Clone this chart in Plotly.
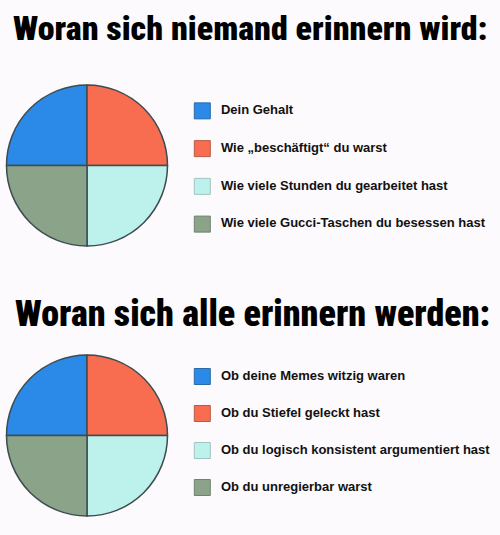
import plotly.graph_objects as go

W, H = 500, 535

title_top = "Woran sich niemand erinnern wird:"
title_bottom = "Woran sich alle erinnern werden:"

labels_top = ["Dein Gehalt", "Wie „beschäftigt“ du warst",
              "Wie viele Stunden du gearbeitet hast",
              "Wie viele Gucci-Taschen du besessen hast"]
labels_bottom = ["Ob deine Memes witzig waren", "Ob du Stiefel geleckt hast",
                 "Ob du logisch konsistent argumentiert hast",
                 "Ob du unregierbar warst"]
values_top = [25, 25, 25, 25]
values_bottom = [25, 25, 25, 25]
rows = [0, 1, 2, 3]

colors = ["#2b8ae8", "#f86c50", "#bdf1eb", "#8ba388"]
borders = ["#2a6aa8", "#b85a48", "#9fc5c2", "#6f8270"]
outline = "#3e4c52"
bg = "#fcfafc"

TITLE_FONT_1 = dict(family="Roboto, sans-serif", size=34, color="#000000", weight=900)
TITLE_FONT_2 = dict(family="Roboto, sans-serif", size=36, color="#000000", weight=900)
LEG_FONT = dict(family="'Liberation Sans', Arial, sans-serif", size=13, color="#111111", weight="bold")


def condensed(s):
    return f'<span style="font-stretch:75%">{s}</span>'


def py(top, bottom):
    return [1 - bottom / H, 1 - top / H]


fig = go.Figure()

# Pies
for vals, labs, top, bot in [(values_top, labels_top, 85, 246), (values_bottom, labels_bottom, 355, 516)]:
    fig.add_trace(go.Pie(
        values=vals, labels=labs, sort=False, direction="clockwise", rotation=-90,
        marker=dict(colors=colors, line=dict(color=outline, width=1.5)),
        textinfo="none", showlegend=False, hoverinfo="label",
        domain=dict(x=[6 / W, 168 / W], y=py(top, bot)),
    ))

# Legends drawn as scatter on dedicated axes
legend_specs = [
    (labels_top, "x2", "y2", py(92, 243)),
    (labels_bottom, "x3", "y3", py(358, 506)),
]
for labs, xa, ya, ydom in legend_specs:
    fig.add_trace(go.Scatter(
        x=[0] * len(labs), y=rows, mode="markers", xaxis=xa, yaxis=ya,
        marker=dict(symbol="square", size=16, color=colors, line=dict(color=borders, width=1)),
        showlegend=False, hoverinfo="skip",
    ))
    fig.add_trace(go.Scatter(
        x=[1] * len(labs), y=rows, mode="text", text=labs, textposition="middle right",
        xaxis=xa, yaxis=ya, textfont=LEG_FONT, showlegend=False, hoverinfo="skip",
    ))

axis_off = dict(visible=False, showgrid=False, zeroline=False, fixedrange=True)
fig.update_layout(
    width=W, height=H, margin=dict(l=0, r=0, t=0, b=0),
    paper_bgcolor=bg, plot_bgcolor=bg,
    xaxis2=dict(domain=[193 / W, 1], range=[-0.5, 16], anchor="y2", **axis_off),
    yaxis2=dict(domain=legend_specs[0][3], range=[3.5, -0.5], anchor="x2", **axis_off),
    xaxis3=dict(domain=[193 / W, 1], range=[-0.5, 16], anchor="y3", **axis_off),
    yaxis3=dict(domain=legend_specs[1][3], range=[3.5, -0.5], anchor="x3", **axis_off),
    annotations=[
        dict(text=condensed(title_top), x=250 / W, y=1 - 28 / H, xref="paper", yref="paper",
             xanchor="center", yanchor="middle", showarrow=False, font=TITLE_FONT_1),
        dict(text=condensed(title_bottom), x=252 / W, y=1 - 314 / H, xref="paper", yref="paper",
             xanchor="center", yanchor="middle", showarrow=False, font=TITLE_FONT_2),
    ],
)

fig.write_html("out.html")
